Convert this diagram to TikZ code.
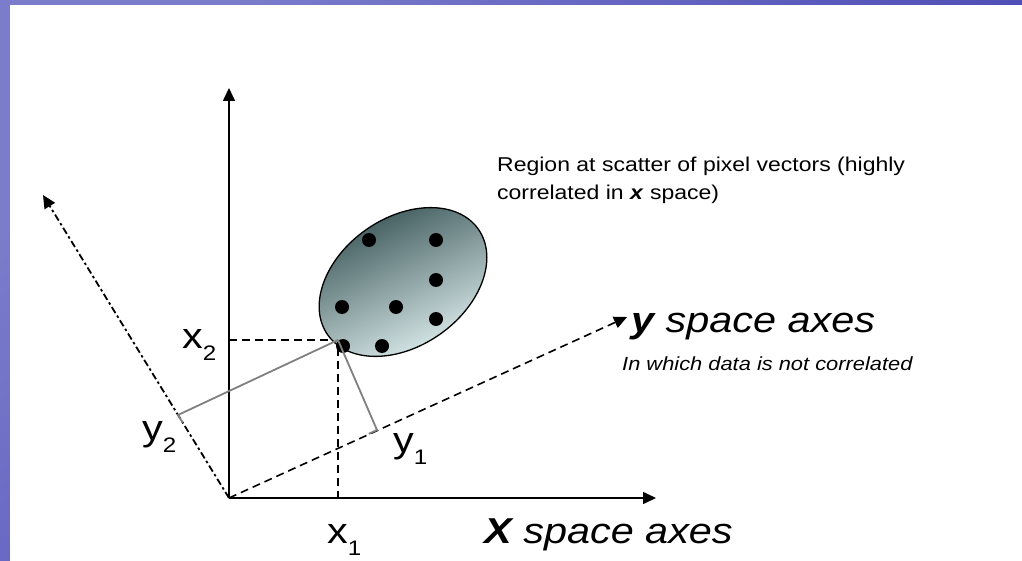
\documentclass[tikz,border=0pt]{standalone}
\usepackage{fontspec}
\setmainfont{Liberation Sans}[FakeStretch=1.15]
\usetikzlibrary{arrows.meta,calc}
\definecolor{slideblue}{RGB}{60,60,174}
\definecolor{slidelight}{RGB}{124,124,204}
\definecolor{blobdark}{RGB}{52,80,82}
\definecolor{bloblight}{RGB}{230,245,245}
\newcommand{\lowidx}[1]{\raisebox{-0.34em}{\fontsize{21}{21}\selectfont #1}}

\begin{document}
\begin{tikzpicture}[x=1pt, y=-1pt,
  ax/.style={line width=1.6pt, -{Triangle[length=13pt, width=12pt]}},
  yax/.style={ax, dash pattern=on 8pt off 5pt},
  y2ax/.style={ax, line width=1.8pt, dash pattern=on 7pt off 3pt on 2.5pt off 3pt},
  guide/.style={line width=1.3pt, dash pattern=on 8pt off 5pt},
  proj/.style={line width=1.8pt, black!50},
  blob/.style={line width=1.3pt, top color=blobdark, bottom color=bloblight, shading angle=25},
  dotv/.style={circle, fill=black, inner sep=0pt, minimum size=14pt},
  lbl/.style={font=\fontsize{36}{40}\selectfont, inner sep=0pt, anchor=base west},
  axname/.style={font=\fontsize{36}{40}\selectfont\itshape, inner sep=0pt, anchor=base west},
  note/.style={font=\fontsize{20}{28}\selectfont, inner sep=0pt, align=left}]
\useasboundingbox (0,0) rectangle (1022,561);
% slide frame
\shade[top color=slidelight, bottom color=slideblue, shading angle=45] (0,0) rectangle (1022,561);
\fill[white] (10,5) rectangle (1022,561);
% axes
\coordinate (O) at (229,498);
\coordinate (xtip) at (656,498);
\coordinate (vtip) at (229,88);
\coordinate (ytip) at (627,317);
\coordinate (y2tip) at (43,195);
\coordinate (P) at (338,340);
\coordinate (f1) at (377,430);
\coordinate (f2) at (178,415);
\coordinate (px1) at (338,498);
\coordinate (px2) at (229,340);
\draw[ax] (O) -- (xtip);
\draw[ax] (O) -- (vtip);
\draw[yax] (O) -- (ytip);
\draw[y2ax] (O) -- (y2tip);
\draw[guide] (px2) -- (P) -- (px1);
% scatter region
\begin{scope}[shift={(403,282)}, rotate=35]
  \draw[blob] (0,0) ellipse [x radius=92, y radius=64];
\end{scope}
\foreach \k/\px/\py in {1/369/240, 2/436/240, 3/436/280, 4/342/307,
                        5/396/307, 6/436/319, 7/343/346, 8/382/346}
  \node[dotv] (d\k) at (\px,\py) {};
\draw[proj] (P) -- (f1) -- ($(f1)!9pt!(O)$);
\draw[proj] (P) -- (f2) -- ($(f2)!9pt!(O)$);
% labels
\node[lbl] (x2) at (182,348) {x\lowidx{2}};
\node[lbl] (y2) at (142,440) {y\lowidx{2}};
\node[lbl] (y1) at (393,452) {y\lowidx{1}};
\node[lbl] (x1) at (327,543) {x\lowidx{1}};
\node[axname] (xname) at (484,543) {\textbf{X} space axes};
\node[axname] (yname) at (631,332) {\textbf{y} space axes};
\node[font=\fontsize{19}{22}\selectfont\itshape, inner sep=0pt, anchor=base west] (ynote) at (622,370) {In which data is not correlated};
\node[note, anchor=north west] (region) at (497,157) {Region at scatter of pixel vectors (highly\\correlated in \textbf{\textit{x}} space)};
\end{tikzpicture}
\end{document}
